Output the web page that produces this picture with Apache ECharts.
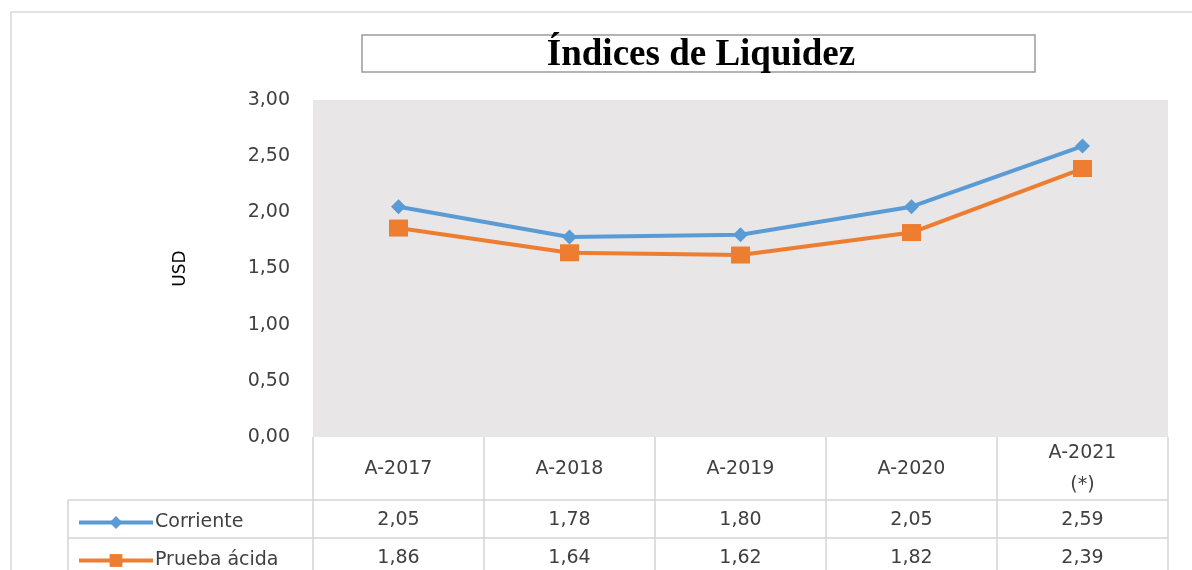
<!DOCTYPE html>
<html>
<head>
<meta charset="utf-8">
<script src="https://cdn.jsdelivr.net/npm/echarts@6/dist/echarts.min.js"></script>
<style>
  html, body { margin: 0; padding: 0; background: #fff; }
  #chart { width: 1192px; height: 570px; }
</style>
</head>
<body>
<div id="chart"></div>
<script>
// datos
const categories = ['A-2017', 'A-2018', 'A-2019', 'A-2020', 'A-2021\n(*)']
const corriente = [2.05, 1.78, 1.80, 2.05, 2.59]
const pruebaAcida = [1.86, 1.64, 1.62, 1.82, 2.39]
const yTicks = [0, 0.5, 1, 1.5, 2, 2.5, 3]

const fmt = v => v.toFixed(2).replace('.', ',')

// layout
const plotL = 313, plotR = 1168, plotT = 100, plotB = 437
const rowH1 = 63, rowH2 = 38
const tableL = 68
const textColor = '#404040'
const lineColor = '#d4d4d4'
const font = 'DejaVu Sans'

const chart = echarts.init(document.getElementById('chart'))

// bordes de la tabla
const tableLines = []
const colW = (plotR - plotL) / categories.length
for (let i = 0; i <= categories.length; i++) {
  const x = plotL + i * colW
  tableLines.push({ type: 'line', shape: { x1: x, y1: plotB, x2: x, y2: 580 }, style: { stroke: lineColor, lineWidth: 1.5 } })
}
tableLines.push({ type: 'line', shape: { x1: tableL, y1: plotB + rowH1, x2: tableL, y2: 580 }, style: { stroke: lineColor, lineWidth: 1.5 } })
;[plotB + rowH1, plotB + rowH1 + rowH2].forEach(y => {
  tableLines.push({ type: 'line', shape: { x1: tableL, y1: y, x2: plotR, y2: y }, style: { stroke: lineColor, lineWidth: 1.5 } })
})

// leyenda dentro de la tabla
const legendRow = (name, row) => ({
  left: tableL + 4,
  top: plotB + rowH1 + row * rowH2 + 8,
  itemWidth: 74,
  itemHeight: 16,
  lineStyle: { width: 4 },
  textStyle: { fontSize: 19, color: textColor, fontFamily: font, padding: [0, 0, 0, -3] },
  data: [name]
})

chart.setOption({
  animation: false,
  textStyle: { fontFamily: font },
  grid: {
    left: plotL, right: 1192 - plotR, top: plotT, bottom: 570 - plotB,
    show: true, backgroundColor: '#e8e6e6', borderWidth: 0
  },
  legend: [legendRow('Corriente', 0), legendRow('Prueba ácida', 1)],
  xAxis: [
    {
      type: 'category', data: categories,
      axisLine: { show: false }, axisTick: { show: false },
      axisLabel: { fontSize: 19, color: textColor, lineHeight: 32, verticalAlign: 'middle', margin: rowH1 / 2 + 1, interval: 0 }
    },
    {
      type: 'category', position: 'bottom', offset: rowH1, data: corriente.map(fmt),
      axisLine: { show: false }, axisTick: { show: false },
      axisLabel: { fontSize: 19, color: textColor, verticalAlign: 'middle', margin: rowH2 / 2 + 1, interval: 0 }
    },
    {
      type: 'category', position: 'bottom', offset: rowH1 + rowH2, data: pruebaAcida.map(fmt),
      axisLine: { show: false }, axisTick: { show: false },
      axisLabel: { fontSize: 19, color: textColor, verticalAlign: 'middle', margin: rowH2 / 2 + 1, interval: 0 }
    }
  ],
  yAxis: {
    type: 'value', min: yTicks[0], max: yTicks[yTicks.length - 1], interval: 0.5,
    name: 'USD', nameLocation: 'middle', nameGap: 124,
    nameTextStyle: { fontSize: 17, color: '#000', fontFamily: font },
    axisLine: { show: false }, axisTick: { show: false }, splitLine: { show: false },
    axisLabel: { fontSize: 19, color: textColor, margin: 23, formatter: v => fmt(v) }
  },
  series: [
    {
      name: 'Corriente', type: 'line', data: corriente,
      symbol: 'diamond', symbolSize: [15, 15],
      lineStyle: { color: '#5b9bd5', width: 4 },
      itemStyle: { color: '#5b9bd5' }
    },
    {
      name: 'Prueba ácida', type: 'line', data: pruebaAcida,
      symbol: 'rect', symbolSize: [19, 17],
      lineStyle: { color: '#ed7d31', width: 4 },
      itemStyle: { color: '#ed7d31' }
    }
  ],
  graphic: [
    { type: 'rect', shape: { x: 11, y: 12, width: 1200, height: 600 }, style: { fill: null, stroke: '#d9d9d9', lineWidth: 1.5 }, z: -10 },
    ...tableLines,
    { type: 'rect', shape: { x: 362, y: 35, width: 673, height: 37 }, style: { fill: '#fff', stroke: '#9a9a9a', lineWidth: 1.5 } },
    {
      type: 'text', x: 701, y: 55,
      style: { text: 'Índices de Liquidez', font: 'bold 37px "Liberation Serif"', fill: '#000', textAlign: 'center', textVerticalAlign: 'middle' }
    }
  ]
})
</script>
</body>
</html>
